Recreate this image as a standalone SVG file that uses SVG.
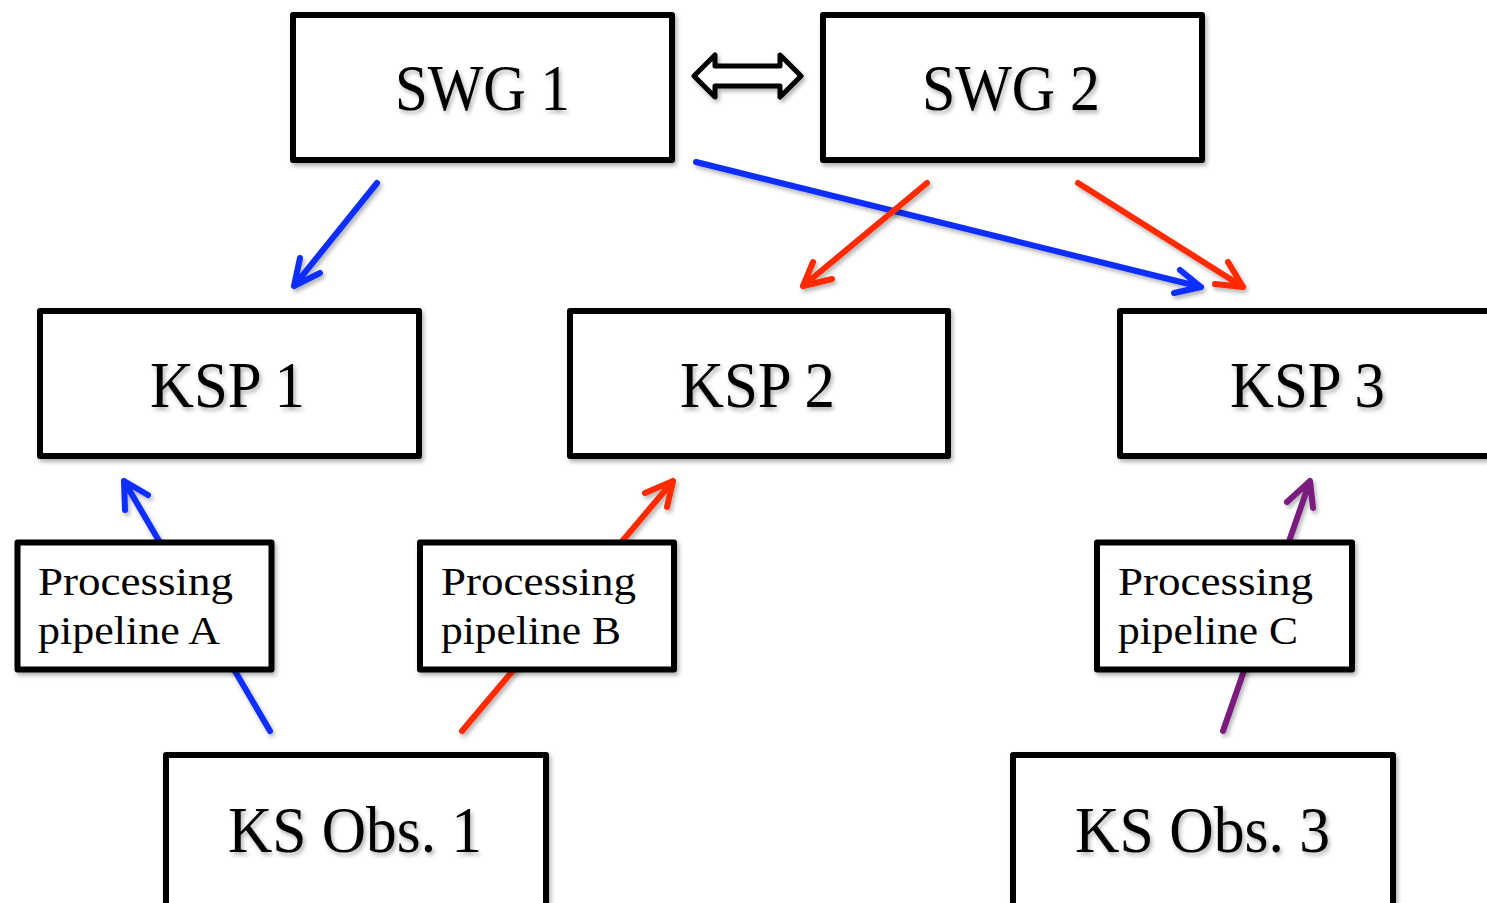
<svg xmlns="http://www.w3.org/2000/svg" width="1487" height="903" viewBox="0 0 1487 903">
<defs>
<filter id="sh" x="-10%" y="-10%" width="130%" height="140%">
<feDropShadow dx="2" dy="3" stdDeviation="2" flood-color="#000" flood-opacity="0.3"/>
</filter>
<style>
.box{fill:#fff;stroke:#000;stroke-width:6;stroke-linejoin:round;filter:url(#sh)}
.big{font-family:"Liberation Serif","Times New Roman",serif;font-size:66px;fill:#000;filter:url(#sh)}
.sm{font-family:"Liberation Serif","Times New Roman",serif;font-size:41px;fill:#000}
.ln{fill:none;stroke-width:6;stroke-linecap:round;stroke-linejoin:round;filter:url(#sh)}
.b{stroke:#0A2DFF}
.r{stroke:#FF2A00}
.p{stroke:#7A1A7E}
</style>
</defs>
<g id="connectors">
<g class="ln b">
<path d="M377,183 L294,286 M300,258 L294,286 L320,273"/>
<path d="M696,162 L1201,287 M1180,270 L1201,287 L1174,293"/>
<path d="M270,731 L124,481 M125,510 L124,481 L148,495"/>
</g>
<g class="ln r">
<path d="M927,183 L803,286 M813,262 L803,286 L832,279"/>
<path d="M1078,183 L1243,287 M1228,262 L1243,287 L1215,284"/>
<path d="M462,731 L673,481 M645,493 L673,481 L667,507"/>
</g>
<g class="ln p">
<path d="M1223,731 L1310,481 M1287,502 L1310,481 L1313,508"/>
</g>
<polygon id="swg-link" points="694,76 715,55 715,66 780,66 780,55 801,76 780,97 780,86 715,86 715,97" fill="#fff" stroke="#000" stroke-width="5" stroke-linejoin="round" filter="url(#sh)"/>
</g>
<g id="swg1"><rect class="box" x="293" y="15" width="379" height="145"/><text class="big" x="395" y="110" textLength="175" lengthAdjust="spacingAndGlyphs">SWG 1</text></g>
<g id="swg2"><rect class="box" x="823" y="15" width="379" height="145"/><text class="big" x="922" y="110" textLength="178" lengthAdjust="spacingAndGlyphs">SWG 2</text></g>
<g id="ksp1"><rect class="box" x="40" y="311" width="379" height="145"/><text class="big" x="150" y="407" textLength="155" lengthAdjust="spacingAndGlyphs">KSP 1</text></g>
<g id="ksp2"><rect class="box" x="570" y="311" width="378" height="145"/><text class="big" x="680" y="407" textLength="155" lengthAdjust="spacingAndGlyphs">KSP 2</text></g>
<g id="ksp3"><rect class="box" x="1120" y="311" width="380" height="145"/><text class="big" x="1230" y="407" textLength="155" lengthAdjust="spacingAndGlyphs">KSP 3</text></g>
<g id="pipeA"><rect class="box" x="17.5" y="542.5" width="254" height="127"/><text class="sm" x="38" y="595" textLength="195" lengthAdjust="spacingAndGlyphs">Processing</text><text class="sm" x="38" y="644" textLength="182" lengthAdjust="spacingAndGlyphs">pipeline A</text></g>
<g id="pipeB"><rect class="box" x="420" y="542.5" width="254" height="127"/><text class="sm" x="441" y="595" textLength="195" lengthAdjust="spacingAndGlyphs">Processing</text><text class="sm" x="441" y="644" textLength="180" lengthAdjust="spacingAndGlyphs">pipeline B</text></g>
<g id="pipeC"><rect class="box" x="1097" y="542.5" width="255" height="127"/><text class="sm" x="1118" y="595" textLength="195" lengthAdjust="spacingAndGlyphs">Processing</text><text class="sm" x="1118" y="644" textLength="180" lengthAdjust="spacingAndGlyphs">pipeline C</text></g>
<g id="ksobs1"><rect class="box" x="166" y="755" width="380" height="160"/><text class="big" x="228" y="852" textLength="254" lengthAdjust="spacingAndGlyphs">KS Obs. 1</text></g>
<g id="ksobs3"><rect class="box" x="1013" y="755" width="380" height="160"/><text class="big" x="1075" y="852" textLength="255" lengthAdjust="spacingAndGlyphs">KS Obs. 3</text></g>
</svg>
